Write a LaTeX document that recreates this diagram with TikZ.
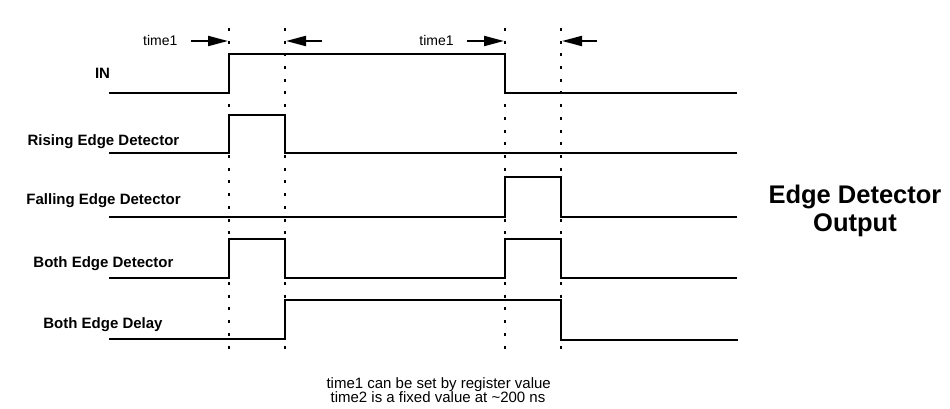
\documentclass[tikz,border=0pt]{standalone}
\usepackage{fontspec}
\setmainfont{Liberation Sans}
\usetikzlibrary{arrows.meta}
\begin{document}
\begin{tikzpicture}[x=1pt,y=-1pt,
  sig/.style={line width=2pt,line join=miter},
  guide/.style={line width=2pt,dash pattern=on 3pt off 9.7pt},
  timearrow/.style={line width=2pt,-{Triangle[length=20pt,width=10pt]}},
  lbl/.style={font=\fontsize{15}{17}\selectfont\bfseries,anchor=base,inner sep=0pt},
  small/.style={font=\fontsize{14}{14}\selectfont,anchor=base,inner sep=0pt},
  note/.style={font=\fontsize{15}{14}\selectfont,anchor=base,inner sep=0pt},
  big/.style={font=\fontsize{25.5}{28}\selectfont\bfseries,anchor=base,inner sep=0pt}]
\useasboundingbox[fill=white] (0,0) rectangle (950,409);

% dotted guide lines
\foreach \x/\n in {229/ga,285/gb,505/gc,561/gd}{
  \coordinate (\n t) at (\x,28);
  \coordinate (\n b) at (\x,358);
  \draw[guide] (\n t) -- (\n b);
}

% signals
\draw[sig] (109,93) -- (229,93) -- (229,54) -- (505,54) -- (505,93) -- (737,93);
\draw[sig] (109,153) -- (229,153) -- (229,115) -- (285,115) -- (285,153) -- (737,153);
\draw[sig] (109,217) -- (505,217) -- (505,177) -- (561,177) -- (561,217) -- (737,217);
\draw[sig] (109,278) -- (229,278) -- (229,239) -- (285,239) -- (285,278) -- (505,278) -- (505,239) -- (561,239) -- (561,278) -- (737,278);
\draw[sig] (109,339) -- (285,339) -- (285,300) -- (561,300) -- (561,340) -- (738,340);

% time arrows
\coordinate (a1s) at (191,41); \coordinate (a1e) at (228,41);
\coordinate (a2s) at (322,41); \coordinate (a2e) at (286,41);
\coordinate (a3s) at (467,41); \coordinate (a3e) at (504,41);
\coordinate (a4s) at (597,41); \coordinate (a4e) at (562,41);
\draw[timearrow] (a1s) -- (a1e);
\draw[timearrow] (a2s) -- (a2e);
\draw[timearrow] (a3s) -- (a3e);
\draw[timearrow] (a4s) -- (a4e);

\node[small] (t1a) at (160.3,45.7) {time1};
\node[small] (t1b) at (436.5,45.7) {time1};

% labels
\node[lbl] (in) at (102.5,78.3) {IN};
\node[lbl] (red) at (103.5,145.7) {Rising Edge Detector};
\node[lbl] (fed) at (103.5,204.3) {Falling Edge Detector};
\node[lbl] (bed) at (103.5,267.7) {Both Edge Detector};
\node[lbl] (bdl) at (103,328.3) {Both Edge Delay};

\node[big] (title) at (855,203.3) {Edge Detector};
\node[big] (title2) at (855,231.7) {Output};

\node[note] (note1) at (438.7,388.3) {time1 can be set by register value};
\node[note] (note2) at (438,402.3) {time2 is a fixed value at \textasciitilde200 ns};
\end{tikzpicture}
\end{document}
